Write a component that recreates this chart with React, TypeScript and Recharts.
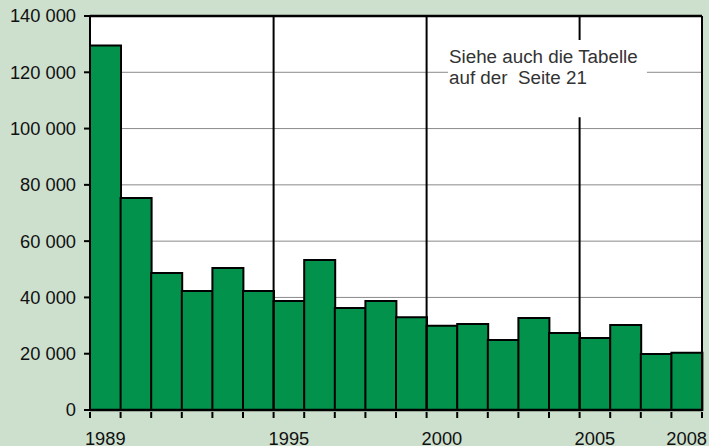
import React from "react"
import {
  BarChart,
  Bar,
  XAxis,
  YAxis,
  CartesianGrid,
  ReferenceLine,
  ReferenceArea
} from "recharts"

const years = [
  "1989", "1990", "1991", "1992", "1993", "1994", "1995", "1996", "1997", "1998",
  "1999", "2000", "2001", "2002", "2003", "2004", "2005", "2006", "2007", "2008"
]
const counts = [
  129500, 75300, 48700, 42300, 50500, 42300, 38700, 53300, 36200, 38700,
  33000, 29900, 30600, 24900, 32700, 27400, 25600, 30200, 19900, 20300
]
const shownYears = ["1989", "1995", "2000", "2005", "2008"]
const yTicks = [0, 20000, 40000, 60000, 80000, 100000, 120000, 140000]
const decadeLines = [6, 11, 16]
const note = ["Siehe auch die Tabelle", "auf der\u00a0 Seite 21"]

const data = years.map((year, i) => ({ year, pos: i + 0.5, value: counts[i] }))

const font = "'Liberation Sans', Arial, sans-serif"

const fmt = (v: number) => String(v).replace(/\B(?=(\d{3})+(?!\d))/g, " ")

function YearTick(props: any) {
  const { x, y, payload, index } = props
  const off = payload.offset || 0
  const last = index === years.length - 1
  const label = shownYears.includes(payload.value) ? payload.value : ""
  return (
    <g>
      <line x1={x - off} x2={x - off} y1={y - 8} y2={y - 2} stroke="#000" strokeWidth={2} />
      {last && (
        <line x1={x + off} x2={x + off} y1={y - 8} y2={y - 2} stroke="#000" strokeWidth={2} />
      )}
      <text
        x={x}
        y={y + 25}
        textAnchor="middle"
        fill="#111"
        fontSize={18.3}
        fontFamily={font}
      >
        {label}
      </text>
    </g>
  )
}

function NoteLabel(props: any) {
  const { viewBox } = props
  const x = viewBox.x + 1
  const y = viewBox.y
  return (
    <text x={x} y={y} fill="#333" fontSize={18.8} fontFamily={font}>
      <tspan x={x} y={y + 23}>{note[0]}</tspan>
      <tspan x={x} y={y + 44}>{note[1]}</tspan>
    </text>
  )
}

export default function App() {
  return (
    <div
      style={{
        position: "absolute",
        left: 0,
        top: 0,
        width: 709,
        height: 446,
        background: "#cde0cd",
        overflow: "hidden"
      }}
    >
      <BarChart
        width={709}
        height={446}
        data={data}
        margin={{ top: 16, right: 7, bottom: 0, left: 0 }}
        barCategoryGap={0}
      >
        <CartesianGrid vertical={false} stroke="#8a8a8a" strokeWidth={1} fill="#fff" />
        <XAxis
          dataKey="year"
          height={36}
          interval={0}
          axisLine={{ stroke: "#000", strokeWidth: 2.5 }}
          tickLine={false}
          tickSize={8}
          tick={<YearTick />}
        />
        <XAxis
          xAxisId="n"
          dataKey="pos"
          type="number"
          domain={[0, years.length]}
          allowDataOverflow
          hide
        />
        <YAxis
          width={90}
          domain={[0, 140000]}
          ticks={yTicks}
          interval={0}
          axisLine={{ stroke: "#000", strokeWidth: 2 }}
          tickLine={{ stroke: "#000", strokeWidth: 2 }}
          tickSize={6}
          tickMargin={8}
          tickFormatter={fmt}
          tick={{ fill: "#111", fontSize: 18.3, fontFamily: font }}
        />
        {decadeLines.map((x) => (
          <ReferenceLine key={x} xAxisId="n" x={x} stroke="#000" strokeWidth={2} />
        ))}
        <ReferenceLine y={140000} stroke="#000" strokeWidth={2.5} />
        <ReferenceLine xAxisId="n" x={years.length} stroke="#000" strokeWidth={2} />
        <ReferenceArea
          xAxisId="n"
          x1={11.7}
          x2={18.2}
          y1={104000}
          y2={131500}
          fill="#fff"
          fillOpacity={1}
          stroke="none"
          zIndex={1000}
          label={<NoteLabel />}
        />
        <Bar
          dataKey="value"
          fill="#03924b"
          stroke="#000"
          strokeWidth={2}
          isAnimationActive={false}
        />
      </BarChart>
    </div>
  )
}
